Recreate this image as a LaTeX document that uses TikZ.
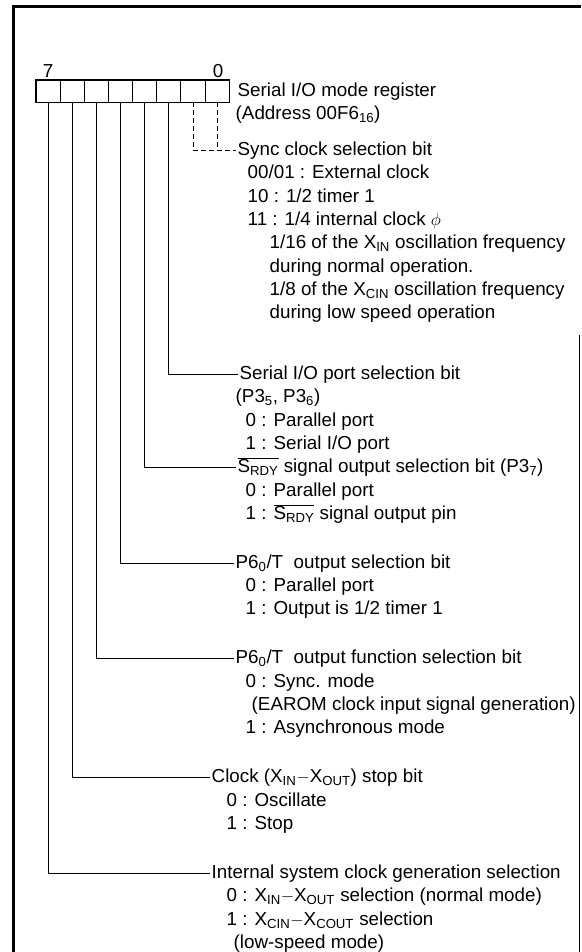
\documentclass[tikz,border=0pt]{standalone}
\usepackage{fontspec}
\setmainfont{Liberation Sans}
\newcommand{\xs}[1]{X\textsubscript{#1}}
\newcommand{\srdy}{$\overline{\hbox{S\textsubscript{RDY}}}$}
\tikzset{
  cell/.style={draw, line width=0.8pt, minimum width=24.1pt, minimum height=22pt, inner sep=0pt},
  txt/.style={anchor=west, inner sep=1.5pt, text height=13.5pt, text depth=3pt,
    font=\fontsize{18.8}{22}\selectfont},
  lead/.style={line width=0.8pt},
  dashlead/.style={line width=0.8pt, dash pattern=on 5pt off 3pt},
}
\begin{document}
\begin{tikzpicture}[x=1pt, y=-1pt]
  \useasboundingbox (0,0) rectangle (581,952);
  % frame
  \draw[line width=3pt] (13,952) -- (13,7) -- (581,7);
  \draw[line width=1.5pt] (579.5,335) -- (579.5,952);

  % register
  \foreach \i in {0,...,7}
    \node[cell] (b\i) at ({217-24.1*\i},91) {};
  \draw[line width=1.6pt] (b7.north west) rectangle (b0.south east);
  \node[txt, anchor=center] (msb) at (48,72) {7};
  \node[txt, anchor=center] (lsb) at (218,72) {0};
  \node[txt] (reg) at (236,91) {Serial I/O mode register};
  \node[txt] (addr) at (234,114) {(Address 00F6\textsubscript{16})};

  % bits 0,1
  \node[txt] (sync) at (236,150) {Sync clock selection bit};
  \node[txt] (s1) at (246,173) {00/01 : External clock};
  \node[txt] (s2) at (246,197) {10 : 1/2 timer 1};
  \node[txt] (s3) at (246,220) {11 : 1/4 internal clock $\phi$};
  \node[txt] (s4) at (268,243) {1/16 of the \xs{IN} oscillation frequency};
  \node[txt] (s5) at (268,267) {during normal operation.};
  \node[txt] (s6) at (268,290) {1/8 of the \xs{CIN} oscillation frequency};
  \node[txt] (s7) at (268,313) {during low speed operation};

  % bit 2
  \node[txt] (port) at (238,374) {Serial I/O port selection bit};
  \node[txt] (p1) at (234,397) {(P3\textsubscript{5}, P3\textsubscript{6})};
  \node[txt] (p2) at (244,421) {0 : Parallel port};
  \node[txt] (p3) at (244,444) {1 : Serial I/O port};

  % bit 3
  \node[txt] (rdy) at (236,467) {\srdy{} signal output selection bit (P3\textsubscript{7})};
  \node[txt] (r1) at (244,491) {0 : Parallel port};
  \node[txt] (r2) at (244,514) {1 : \srdy{} signal output pin};

  % bit 4
  \node[txt] (pout) at (234,563) {P6\textsubscript{0}/T\ \ output selection bit};
  \node[txt] (o1) at (244,586) {0 : Parallel port};
  \node[txt] (o2) at (244,609) {1 : Output is 1/2 timer 1};

  % bit 5
  \node[txt] (pfun) at (234,658) {P6\textsubscript{0}/T\ \ output function selection bit};
  \node[txt] (f1) at (244,682) {0 : Sync. mode};
  \node[txt] (f2) at (250,705) {(EAROM clock input signal generation)};
  \node[txt] (f3) at (244,728) {1 : Asynchronous mode};

  % bit 6
  \node[txt] (clk) at (210,777) {Clock (\xs{IN}$-$\xs{OUT}) stop bit};
  \node[txt] (c1) at (225,801) {0 : Oscillate};
  \node[txt] (c2) at (225,824) {1 : Stop};

  % bit 7
  \node[txt] (sys) at (210,873) {Internal system clock generation selection};
  \node[txt] (y1) at (225,896) {0 : \xs{IN}$-$\xs{OUT} selection (normal mode)};
  \node[txt] (y2) at (225,920) {1 : \xs{CIN}$-$\xs{COUT} selection};
  \node[txt] (y3) at (232,943) {(low-speed mode)};

  % leads
  \draw[dashlead] (b0.south) |- (sync.west);
  \draw[dashlead] (b1.south) |- (sync.west);
  \draw[lead] (b2.south) |- (port.west);
  \draw[lead] (b3.south) |- (rdy.west);
  \draw[lead] (b4.south) |- (pout.west);
  \draw[lead] (b5.south) |- (pfun.west);
  \draw[lead] (b6.south) |- (clk.west);
  \draw[lead] (b7.south) |- (sys.west);
\end{tikzpicture}
\end{document}
